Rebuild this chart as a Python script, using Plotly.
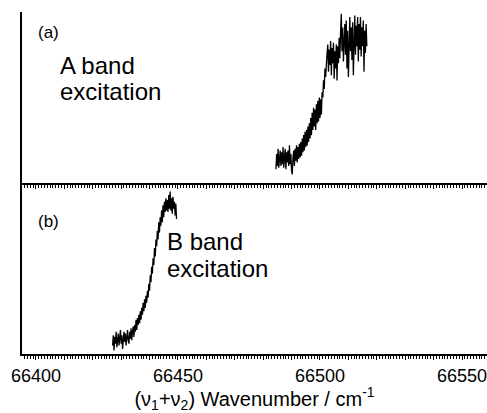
import plotly.graph_objects as go

# Spectrum (a): A band excitation
a_start = 66484.5
a_step = 0.25
a_vals = [0.08,0.17,0.10,0.20,0.09,0.15,0.19,0.10,0.18,0.11,0.21,0.09,0.16,0.20,0.08,0.18,0.12,0.19,0.10,0.22,0.11,0.17,0.07,0.05,0.15,0.19,0.10,0.20,0.13,0.22,0.12,0.21,0.14,0.23,0.15,
          0.24,0.16,0.26,0.18,0.28,0.19,0.30,0.21,0.31,0.22,0.33,0.24,0.35,0.26,
          0.38,0.28,0.41,0.31,0.44,0.33,0.43,0.31,0.46,0.35,0.48,0.36,0.50,0.38,0.49,0.40,0.53,
          0.50,0.60,0.55,0.67,0.62,0.73,0.76,
          0.81,0.65,0.78,0.69,0.83,0.63,0.79,0.70,0.82,0.61,0.77,0.67,0.81,0.60,0.80,0.70,0.85,0.73,
          0.88,0.99,0.77,0.91,0.71,0.87,0.93,0.75,0.95,0.67,0.89,0.62,0.86,0.97,0.77,0.91,0.72,0.94,0.63,0.88,0.98,0.75,0.92,0.80,0.97,0.71,0.93,0.78,0.97,0.74,0.91,0.80,0.95,0.65,0.89,0.76,0.93,0.80]

# Spectrum (b): B band excitation
b_start = 66427.0
b_step = 0.25
b_vals = [0.05,0.11,0.02,0.10,0.06,0.13,0.04,0.09,0.12,0.05,0.10,0.14,0.06,0.11,0.03,0.10,0.13,0.07,0.12,0.05,0.11,0.14,0.08,0.06,0.13,0.09,0.15,0.08,0.13,
          0.16,0.10,0.17,0.13,0.20,0.14,0.21,0.17,0.23,0.18,0.25,0.20,0.27,0.23,0.30,0.25,0.32,0.27,0.34,0.30,
          0.37,0.33,0.41,0.37,0.46,0.42,0.51,0.47,0.56,0.52,0.62,0.57,0.67,0.63,
          0.72,0.67,0.77,0.71,0.80,0.75,0.84,0.77,0.87,0.80,0.89,0.83,0.91,0.84,
          0.90,0.83,0.93,0.85,0.95,0.84,0.91,0.82,0.92,0.85,0.89,0.81,0.88,0.79]

a_x = [a_start + i * a_step for i in range(len(a_vals))]
b_x = [b_start + i * b_step for i in range(len(b_vals))]

tick_vals = list(range(66400, 66560, 10))
tick_text = [str(v) if v % 50 == 0 else "" for v in tick_vals]

FONT = "Liberation Sans, Arial, Helvetica, sans-serif"

fig = go.Figure()
fig.add_trace(go.Scatter(x=b_x, y=b_vals, mode="lines", line=dict(color="black", width=1.3),
                         xaxis="x", yaxis="y", showlegend=False))
fig.add_trace(go.Scatter(x=a_x, y=a_vals, mode="lines", line=dict(color="black", width=1.3),
                         xaxis="x2", yaxis="y2", showlegend=False))

xr = [66395.1, 66558.8]
common_x = dict(range=xr, showline=True, linecolor="black", linewidth=2, showgrid=False, zeroline=False,
                ticks="outside", ticklen=4, tickwidth=1, tickcolor="black",
                tickmode="array", tickvals=tick_vals,
                minor=dict(dtick=1, tick0=66400, ticks="outside", ticklen=3, tickwidth=1, tickcolor="black", showgrid=False))
common_y = dict(range=[0, 1], showline=True, linecolor="black", linewidth=2, showgrid=False, zeroline=False,
                ticks="", showticklabels=False)

fig.update_layout(
    width=487, height=413,
    margin=dict(l=22, r=0, t=12, b=59),
    paper_bgcolor="white", plot_bgcolor="white",
    font=dict(family=FONT, color="black"),
    xaxis=dict(**common_x, anchor="y", ticktext=tick_text, tickfont=dict(size=18),
               ticklabeloverflow="allow",
               title=dict(text="(ν<sub>1</sub>+ν<sub>2</sub>) Wavenumber / cm<sup>-1</sup>",
                          font=dict(size=20), standoff=4)),
    xaxis2=dict(**common_x, anchor="y2", matches="x", showticklabels=False),
    yaxis=dict(**common_y, domain=[0, 0.5], anchor="x"),
    yaxis2=dict(**common_y, domain=[0.5, 1], anchor="x2"),
)

def ann(text, x, y, size):
    fig.add_annotation(text=text, x=x, y=y, xref="paper", yref="paper", xanchor="left", yanchor="middle",
                       showarrow=False, font=dict(size=size, family=FONT, color="black"))

ann("(a)", 0.030, 0.939, 17)
ann("A band", 0.077, 0.845, 24)
ann("excitation", 0.077, 0.769, 24)
ann("(b)", 0.030, 0.386, 17)
ann("B band", 0.3075, 0.330, 24)
ann("excitation", 0.3075, 0.251, 24)

fig.write_html("out.html")
